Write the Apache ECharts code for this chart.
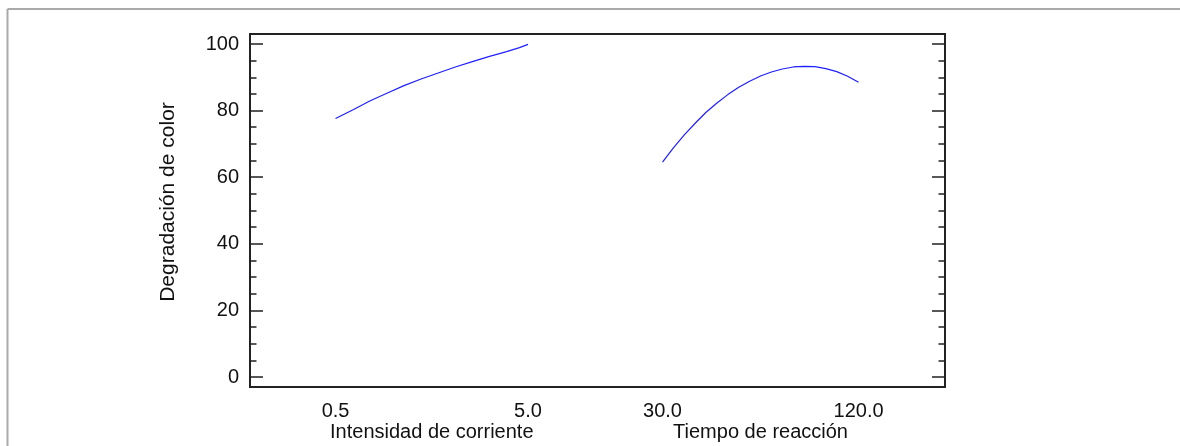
<!DOCTYPE html>
<html>
<head>
<meta charset="utf-8">
<title>Efectos principales para Degradación de color</title>
<script src="https://cdn.jsdelivr.net/npm/echarts@6/dist/echarts.min.js"></script>
<style>
  html, body { margin: 0; padding: 0; background: #ffffff; }
  #chart { width: 1180px; height: 446px; }
</style>
</head>
<body>
<div id="chart"></div>
<script>
// Main effect of each factor on colour degradation (%)
const currentX = [0.5, 0.9, 1.3, 1.7, 2.1, 2.5, 2.9, 3.3, 3.7, 4.1, 4.5, 4.8, 5.0];
const degradationByCurrent = [77.6, 80.2, 82.9, 85.2, 87.5, 89.5, 91.3, 93.1, 94.7, 96.3, 97.7, 98.9, 99.9];

const timeX = [30, 35, 40, 45, 50, 55, 60, 65, 70, 75, 80, 85, 90, 95, 100, 105, 110, 115, 120];
const degradationByTime = [64.5, 68.8, 72.7, 76.2, 79.5, 82.3, 84.8, 87.0, 88.8, 90.4, 91.6, 92.5, 93.1, 93.3, 93.2, 92.6, 91.7, 90.3, 88.5];

// Tick values
const yMajorTicks = [0, 20, 40, 60, 80, 100];
const yMinorTicks = [5, 10, 15, 25, 30, 35, 45, 50, 55, 65, 70, 75, 85, 90, 95];
const currentTicks = [0.5, 5.0];
const timeTicks = [30, 120];

const factorNames = ['Intensidad de corriente', 'Tiempo de reacción'];
const responseName = 'Degradación de color';

const textColor = '#111111';
const fontFamily = '"Liberation Sans", Arial, sans-serif';
const fontSize = 20;
const lineColor = '#1f1fff';

const pairs = (xs, ys) => xs.map((x, i) => [x, ys[i]]);

function yAxisDef(position, ticks, len, withLabels) {
  return {
    type: 'value',
    position: position,
    min: -3,
    max: 103,
    axisLine: { show: false, onZero: false },
    splitLine: { show: false },
    axisTick: {
      show: true,
      inside: true,
      length: len,
      customValues: ticks,
      lineStyle: { color: '#222', width: 1.5 }
    },
    axisLabel: {
      show: withLabels,
      customValues: ticks,
      margin: 11,
      color: textColor,
      fontFamily: fontFamily,
      fontSize: fontSize
    }
  };
}

function xAxisDef(min, max, ticks) {
  return {
    type: 'value',
    position: 'bottom',
    min: min,
    max: max,
    axisLine: { show: false, onZero: false },
    axisTick: { show: false },
    splitLine: { show: false },
    axisLabel: {
      show: true,
      customValues: ticks,
      margin: 14,
      color: textColor,
      fontFamily: fontFamily,
      fontSize: fontSize,
      formatter: v => Number(v).toFixed(1)
    }
  };
}

const chart = echarts.init(document.getElementById('chart'), null, { renderer: 'canvas' });

const option = {
  backgroundColor: '#ffffff',
  animation: false,
  grid: {
    left: 250,
    right: 235,
    top: 34,
    bottom: 59,
    containLabel: false,
    outerBoundsMode: 'none',
    show: true,
    borderColor: '#222',
    borderWidth: 2,
    backgroundColor: 'transparent'
  },
  xAxis: [
    xAxisDef(-1.5, 14.75, currentTicks),
    xAxisDef(-159.4, 159.7, timeTicks)
  ],
  yAxis: [
    yAxisDef('left', yMajorTicks, 13, true),
    yAxisDef('left', yMinorTicks, 6.5, false),
    yAxisDef('right', yMajorTicks, 13, false),
    yAxisDef('right', yMinorTicks, 6.5, false)
  ],
  series: [
    {
      name: factorNames[0],
      type: 'line',
      xAxisIndex: 0,
      yAxisIndex: 0,
      data: pairs(currentX, degradationByCurrent),
      showSymbol: false,
      lineStyle: { color: lineColor, width: 1.2 }
    },
    {
      name: factorNames[1],
      type: 'line',
      xAxisIndex: 1,
      yAxisIndex: 0,
      data: pairs(timeX, degradationByTime),
      showSymbol: false,
      lineStyle: { color: lineColor, width: 1.2 }
    }
  ]
};

chart.setOption(option);

// Factor names centred under each factor's range, response name on the left,
// plus the light outer frame.
const c1 = (chart.convertToPixel({ xAxisIndex: 0 }, currentTicks[0]) + chart.convertToPixel({ xAxisIndex: 0 }, currentTicks[1])) / 2;
const c2 = (chart.convertToPixel({ xAxisIndex: 1 }, timeTicks[0]) + chart.convertToPixel({ xAxisIndex: 1 }, timeTicks[1])) / 2;

const nameStyle = (text, size) => ({
  text: text,
  fill: textColor,
  font: size + 'px ' + fontFamily,
  textAlign: 'center',
  textVerticalAlign: 'middle'
});

chart.setOption({
  graphic: [
    { type: 'text', x: c1, y: 432, style: nameStyle(factorNames[0], fontSize) },
    { type: 'text', x: c2, y: 432, style: nameStyle(factorNames[1], fontSize) },
    { type: 'text', x: 168, y: 202, rotation: Math.PI / 2, style: nameStyle(responseName, 21) },
    { type: 'line', shape: { x1: 7.5, y1: 9, x2: 1180, y2: 9 }, style: { stroke: '#aaaaaa', lineWidth: 2 } },
    { type: 'line', shape: { x1: 7.5, y1: 9, x2: 7.5, y2: 446 }, style: { stroke: '#aaaaaa', lineWidth: 2 } }
  ]
});
</script>
</body>
</html>
